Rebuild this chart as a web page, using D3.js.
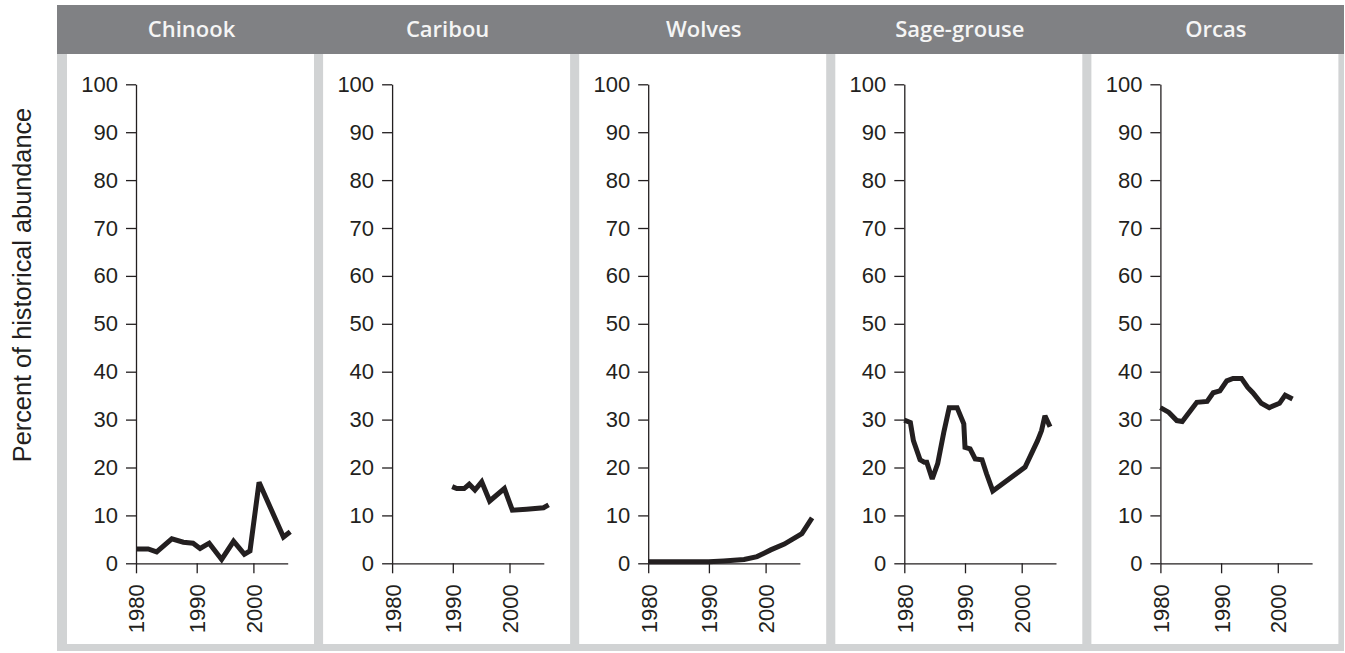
<!DOCTYPE html>
<html>
<head>
<meta charset="utf-8">
<script src="https://cdn.jsdelivr.net/npm/d3@7"></script>
<style>
  html, body { margin: 0; padding: 0; background: #ffffff; }
  svg { display: block; }
</style>
</head>
<body>
<svg id="chart" width="1345" height="653"></svg>
<script>
// Species shown, one small panel each
const species = ["Chinook", "Caribou", "Wolves", "Sage-grouse", "Orcas"];

// Percent of historical abundance by year, one series per species
const chinookYears = [1980, 1982, 1983.4, 1985.9, 1987.8, 1989.4, 1990.6, 1992.2, 1994.4, 1996.5, 1998.4, 1999.4, 2001, 2005.3, 2006.5];
const chinookValues = [3.0, 3.0, 2.4, 5.1, 4.4, 4.2, 3.1, 4.2, 0.8, 4.6, 1.9, 2.6, 16.9, 5.5, 6.6];

const caribouYears = [1989.9, 1990.7, 1992, 1992.9, 1993.9, 1995.1, 1996.5, 1999.1, 2000.5, 2003, 2006, 2006.9];
const caribouValues = [16.0, 15.6, 15.6, 16.5, 15.3, 17.0, 13.0, 15.6, 11.1, 11.3, 11.6, 12.2];

const wolvesYears = [1980, 1990, 1992.6, 1996.2, 1998.5, 2000.9, 2003.3, 2006.4, 2008.2];
const wolvesValues = [0.3, 0.3, 0.5, 0.8, 1.4, 2.8, 4.0, 6.2, 9.5];

const grouseYears = [1980, 1981, 1981.5, 1982.6, 1983.3, 1983.7, 1984.6, 1985.5, 1986.5, 1987.4, 1988.7, 1989.8, 1990, 1990.9, 1991.8, 1993, 1993.8, 1994.9, 2000.6, 2002.8, 2003.5, 2004.1, 2005];
const grouseValues = [29.9, 29.4, 25.6, 21.6, 21.1, 21.1, 17.6, 20.8, 27.3, 32.5, 32.5, 29.1, 24.2, 23.9, 21.8, 21.6, 18.7, 15.1, 20.1, 25.6, 27.7, 30.8, 28.5];

const orcasYears = [1980, 1981.4, 1982.7, 1983.6, 1986, 1987.7, 1988.7, 1989.8, 1991, 1992.1, 1993.6, 1994.7, 1995.6, 1997.1, 1998.5, 2000.3, 2001.3, 2002.6];
const orcasValues = [32.5, 31.5, 29.8, 29.6, 33.6, 33.8, 35.6, 36.0, 38.1, 38.6, 38.6, 36.7, 35.6, 33.4, 32.5, 33.4, 35.1, 34.3];

const seriesYears = [chinookYears, caribouYears, wolvesYears, grouseYears, orcasYears];
const seriesValues = [chinookValues, caribouValues, wolvesValues, grouseValues, orcasValues];

// Axis ticks
const yTicks = [0, 10, 20, 30, 40, 50, 60, 70, 80, 90, 100];
const xTicks = [1980, 1990, 2000];
const yTitle = "Percent of historical abundance";

// Layout
const svg = d3.select("#chart");
const frameX = 57, frameRight = 1344;
const headerTop = 5, headerBottom = 54;
const frameBottom = 651;
const panelX0 = 67, panelStep = 256.1, panelW = 247, panelBottom = 644;
const axisOffset = 69;           // y axis position inside a panel
const ink = "#231f20";
const tickFont = "'Liberation Sans', Arial, sans-serif";

// Grey frame and header band
svg.append("rect")
  .attr("x", frameX).attr("y", headerBottom)
  .attr("width", frameRight - frameX).attr("height", frameBottom - headerBottom)
  .attr("fill", "#d1d3d4");
svg.append("rect")
  .attr("x", frameX).attr("y", headerTop)
  .attr("width", frameRight - frameX).attr("height", headerBottom - headerTop)
  .attr("fill", "#808184");

// Shared scales: years are spaced slightly wider over the 1980s
const x = d3.scaleLinear()
  .domain([1980, 1990, 2006.05])
  .range([0, 60.7, 151.7]);
const y = d3.scaleLinear()
  .domain([0, 100])
  .range([563.3, 84.3]);

const line = d3.line()
  .x(d => x(d[0]))
  .y(d => y(d[1]));

species.forEach((name, i) => {
  const px = panelX0 + i * panelStep;

  // white plotting panel
  svg.append("rect")
    .attr("x", px).attr("y", headerBottom)
    .attr("width", panelW).attr("height", panelBottom - headerBottom)
    .attr("fill", "#ffffff");

  // panel title in the header band
  svg.append("text")
    .attr("x", px + panelW / 2 + 1)
    .attr("y", 29.5)
    .attr("dy", "0.36em")
    .attr("text-anchor", "middle")
    .attr("font-family", "'Open Sans', sans-serif")
    .attr("font-weight", 600)
    .attr("font-size", 22)
    .attr("fill", "#f5f5f5")
    .text(name);

  const g = svg.append("g").attr("transform", `translate(${px + axisOffset},0)`);

  // y axis
  const yAxis = g.append("g")
    .call(d3.axisLeft(y).tickValues(yTicks).tickSize(10).tickSizeOuter(0).tickPadding(8).tickFormat(d3.format("d")));

  // x axis
  const xAxis = g.append("g")
    .attr("transform", `translate(0,${y(0)})`)
    .call(d3.axisBottom(x).tickValues(xTicks).tickSize(10).tickSizeOuter(0).tickPadding(0).tickFormat(d3.format("d")));
  xAxis.selectAll(".tick text")
    .attr("transform", "rotate(-90)")
    .attr("text-anchor", "end")
    .attr("x", -21)
    .attr("y", 0)
    .attr("dy", "0.36em");

  [yAxis, xAxis].forEach(ax => {
    ax.select(".domain").attr("stroke", ink).attr("stroke-width", 1.3);
    ax.selectAll(".tick line").attr("stroke", ink).attr("stroke-width", 1.3);
    ax.selectAll(".tick text")
      .attr("fill", ink)
      .attr("font-family", tickFont)
      .attr("font-size", 22);
  });

  // abundance series
  const data = seriesYears[i].map((yr, k) => [yr, seriesValues[i][k]]);
  g.append("path")
    .datum(data)
    .attr("d", line)
    .attr("fill", "none")
    .attr("stroke", ink)
    .attr("stroke-width", 5)
    .attr("stroke-linejoin", "miter")
    .attr("stroke-miterlimit", 3);
});

// shared y axis title
svg.append("text")
  .attr("transform", "translate(22,285) rotate(-90)")
  .attr("text-anchor", "middle")
  .attr("dy", "0.35em")
  .attr("font-family", tickFont)
  .attr("font-size", 25.3)
  .attr("fill", ink)
  .text(yTitle);
</script>
</body>
</html>
